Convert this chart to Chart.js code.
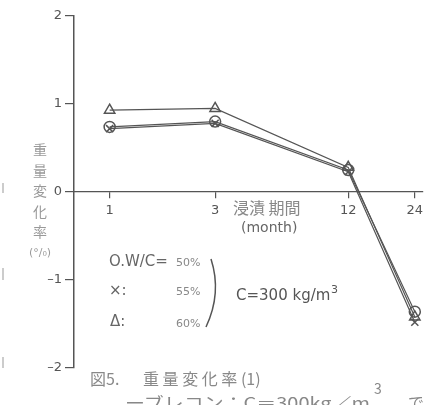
<!DOCTYPE html>
<html lang="ja">
<head>
<meta charset="UTF-8">
<title>重量変化率(1)</title>
<script src="https://cdn.jsdelivr.net/npm/chart.js"></script>
<style>
  body { margin: 0; background: #fff; }
  #wrap { position: relative; width: 430px; height: 405px; }
</style>
</head>
<body>
<div id="wrap"><canvas id="chart" width="430" height="405"></canvas></div>
<script>
// 浸漬期間 (month)
const months = [1, 3, 12, 24];
// 重量変化率 (%)
const wc50 = [0.74, 0.80, 0.25, -1.36];
const wc55 = [0.72, 0.78, 0.23, -1.48];
const wc60 = [0.93, 0.95, 0.28, -1.42];
const yTicks = [-2, -1, 0, 1, 2];

const ink = '#555';
const jp = '"Noto Sans CJK JP", sans-serif';
const num = '"DejaVu Sans", sans-serif';

function pts(vals) {
    return months.map((m, i) => ({ x: m, y: vals[i] }));
}

// texts & bracket drawn over the chart
const notes = {
    id: 'notes',
    afterDraw(chart) {
        const c = chart.ctx;
        c.save();
        c.textBaseline = 'middle';
        c.textAlign = 'center';
        // y title
        c.fillStyle = '#999';
        c.font = '14px ' + jp;
        ['重', '量', '変', '化', '率'].forEach((ch, i) => c.fillText(ch, 40, 150 + i * 20.5));
        c.font = '11px ' + num;
        c.fillText('(°/₀)', 40, 253);
        // x title
        c.fillStyle = '#888';
        c.font = '16px ' + jp;
        c.textAlign = 'left';
        c.fillText('浸漬 期間', 233, 208);
        c.font = '14px ' + num;
        c.fillStyle = '#666';
        c.fillText('(month)', 241, 228);
        // legend
        c.fillStyle = '#666';
        c.font = '15px ' + num;
        c.fillText('O.W/C=', 109, 262);
        c.fillText('×:', 109, 291);
        c.fillText('Δ:', 110, 322);
        c.fillStyle = '#888';
        c.font = '11px ' + num;
        c.fillText('50%', 176, 263);
        c.fillText('55%', 176, 292);
        c.fillText('60%', 176, 324);
        // bracket
        c.strokeStyle = ink;
        c.lineWidth = 1.5;
        c.beginPath();
        c.moveTo(211, 259);
        c.quadraticCurveTo(222, 293, 206, 327);
        c.stroke();
        // C = 300
        c.fillStyle = '#555';
        c.font = '15px ' + num;
        c.fillText('C=300 kg/m', 236, 296);
        c.font = '11px ' + num;
        c.fillText('3', 331, 290);
        // caption
        c.fillStyle = '#888';
        c.font = '16px ' + jp;
        c.fillText('図5.', 90, 379);
        c.fillText('重 量 変 化 率 (1)', 143, 379);
        const line2 = 'ーブレコン：C＝300kg／m';
        const k = 245 / c.measureText(line2).width;
        c.save();
        c.translate(125, 403);
        c.scale(k, 1);
        c.fillText(line2, 0, 0);
        c.restore();
        c.fillText('で', 408, 403);
        c.font = '14px ' + jp;
        c.fillText('3', 374, 389);
        // scan marks on the left edge
        c.strokeStyle = '#aaa';
        c.lineWidth = 1.2;
        [[183, 193], [268, 280], [357, 368]].forEach(([a, b]) => {
            c.beginPath(); c.moveTo(3, a); c.lineTo(3, b); c.stroke();
        });
        c.restore();
    }
};

new Chart(document.getElementById('chart'), {
    type: 'line',
    data: {
        datasets: [
            { label: '50%', data: pts(wc50), pointStyle: 'circle', pointRadius: 5.5 },
            { label: '55%', data: pts(wc55), pointStyle: 'crossRot', pointRadius: 5 },
            { label: '60%', data: pts(wc60), pointStyle: 'triangle', pointRadius: 6 }
        ].map(d => Object.assign(d, {
            borderColor: ink,
            borderWidth: 1.2,
            pointBorderColor: ink,
            pointBackgroundColor: 'rgba(255,255,255,0)',
            pointBorderWidth: 1.5,
            tension: 0
        }))
    },
    options: {
        responsive: false,
        animation: false,
        layout: { padding: { top: 16, right: 2, left: 0, bottom: 37 } },
        plugins: { legend: { display: false }, tooltip: { enabled: false } },
        scales: {
            x: {
                type: 'logarithmic',
                position: { y: 0 },
                min: 0.69,
                max: 26,
                afterBuildTicks(s) { s.ticks = months.map(v => ({ value: v })); },
                ticks: {
                    color: '#555',
                    font: { family: num, size: 13 },
                    padding: 5,
                    maxRotation: 0,
                    callback: v => String(v)
                },
                grid: { drawOnChartArea: false, drawTicks: true, tickLength: 6, color: ink, lineWidth: 1.2 },
                border: { display: true, color: ink, width: 1.2 }
            },
            y: {
                min: -2,
                max: 2,
                afterBuildTicks(s) { s.ticks = yTicks.map(v => ({ value: v })); },
                afterFit(s) { s.width = 74; },
                ticks: {
                    color: '#555',
                    font: { family: num, size: 13 },
                    padding: 3,
                    callback: v => v < 0 ? '\u2013' + Math.abs(v) : String(v)
                },
                grid: { drawOnChartArea: false, drawTicks: true, tickLength: 9, color: ink, lineWidth: 1.2 },
                border: { display: true, color: ink, width: 1.5 }
            }
        }
    },
    plugins: [notes]
});
</script>
</body>
</html>
